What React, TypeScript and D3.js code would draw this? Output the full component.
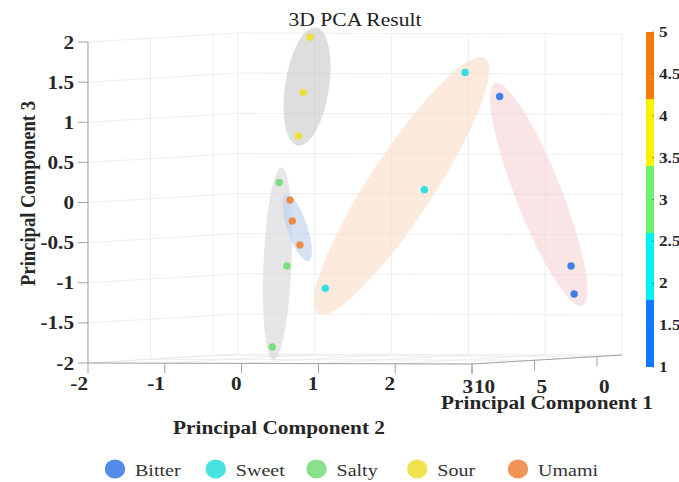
import React from "react";
import * as d3 from "d3";

// ---------- data ----------
const categories = ["Bitter", "Sweet", "Salty", "Sour", "Umami"];
const categoryCodes = [1, 2, 3, 4, 5];
// point positions read as [PC2, PC3] against the front axes of the 3D view
const bitterPoints = [[3.36, 1.32], [4.29, -0.79], [4.33, -1.14]];
const sweetPoints = [[2.91, 1.62], [2.38, 0.16], [1.09, -1.07]];
const saltyPoints = [[0.49, 0.25], [0.59, -0.79], [0.40, -1.80]];
const sourPoints = [[0.89, 2.06], [0.80, 1.37], [0.74, 0.83]];
const umamiPoints = [[0.63, 0.03], [0.66, -0.23], [0.76, -0.53]];
const groupPoints = [bitterPoints, sweetPoints, saltyPoints, sourPoints, umamiPoints];

const pc1Ticks = [10, 5, 0];
const pc2Ticks = [-2, -1, 0, 1, 2, 3];
const pc3Ticks = [-2, -1.5, -1, -0.5, 0, 0.5, 1, 1.5, 2];
const colorbarTicks = [1, 1.5, 2, 2.5, 3, 3.5, 4, 4.5, 5];
const colorbarBins = [1, 1.8, 2.6, 3.4, 4.2, 5];

// ---------- styles ----------
const pointColors = ["#3f7fe6", "#33e0e0", "#7edd7e", "#eee03a", "#ee8a45"];
const binColors = ["#1477ff", "#00f2f2", "#6fee6f", "#fff200", "#f77a0c"];
const ellipseStyle = [
  { pad: 14, hw: 23, dx: 0, dy: 0, rot: 0, fill: "rgb(245,210,213)" },
  { pad: 24, hw: 32, dx: -2, dy: 0, rot: 0, fill: "rgb(250,220,197)" },
  { pad: 14, hw: 14, dx: -2, dy: -1, rot: 0, fill: "rgb(213,213,217)" },
  { pad: 10, hw: 22, dx: 3, dy: 0, rot: 2, fill: "rgb(200,200,203)" },
  { pad: 12, hw: 10, dx: 3, dy: 5, rot: -6, fill: "rgb(187,207,237)" },
];
const ellipseOrder = [3, 2, 4, 1, 0];

const W = 679;
const H = 482;
const S = 1.146; // horizontal stretch of the original figure
const FONT = "'Liberation Serif', 'Times New Roman', serif";

// ---------- scales / projection ----------
const x2 = d3.scaleLinear().domain([-2, 3]).range([88, 472]);
const y3 = d3.scaleLinear().domain([-2, 2]).range([363, 42]);
const depthX = d3.scaleLinear().domain([10, -2]).range([0, 150]);
const depthY = d3.scaleLinear().domain([10, -2]).range([0, -9]);
const slopeY = d3.scaleLinear().domain([-2, 3]).range([0, 1]);
const cb = d3.scaleLinear().domain([1, 5]).range([367, 32]);
const legendX = d3.scaleLinear().domain([0, 4]).range([115, 518]);

function proj(pc1: number, pc2: number, pc3: number): [number, number] {
  return [x2(pc2) + depthX(pc1), y3(pc3) + depthY(pc1) + slopeY(pc2)];
}

function T(props: any) {
  const { x, y, size, weight, anchor, rotate, fill, children } = props;
  return (
    <text
      transform={`translate(${x},${y}) scale(${S},1)${rotate ? " rotate(-90)" : ""}`}
      fontFamily={FONT}
      fontSize={size}
      fontWeight={weight || "normal"}
      textAnchor={anchor || "start"}
      fill={fill || "#222"}
    >
      {children}
    </text>
  );
}

function fitEllipse(pts: number[][], st: any) {
  const sp = pts.map((p) => [x2(p[0]), y3(p[1])]);
  const mx = d3.mean(sp, (p) => p[0])!;
  const my = d3.mean(sp, (p) => p[1])!;
  let sxx = 0, syy = 0, sxy = 0;
  sp.forEach(([x, y]) => {
    sxx += (x - mx) * (x - mx);
    syy += (y - my) * (y - my);
    sxy += (x - mx) * (y - my);
  });
  const th = 0.5 * Math.atan2(2 * sxy, sxx - syy);
  const ux = Math.cos(th), uy = Math.sin(th);
  const ts = sp.map(([x, y]) => (x - mx) * ux + (y - my) * uy);
  const tmin = d3.min(ts)!, tmax = d3.max(ts)!;
  const tc = (tmin + tmax) / 2;
  return {
    cx: mx + tc * ux + st.dx,
    cy: my + tc * uy + st.dy,
    rx: (tmax - tmin) / 2 + st.pad,
    ry: st.hw,
    angle: (th * 180) / Math.PI + st.rot,
  };
}

export default function App() {
  const gridColor = "#e9e9e9";
  const axisColor = "#a3a3a3";
  const lines: JSX.Element[] = [];
  let k = 0;
  const L = (a: [number, number], b: [number, number], c: string, w = 0.8) =>
    lines.push(<line key={k++} x1={a[0]} y1={a[1]} x2={b[0]} y2={b[1]} stroke={c} strokeWidth={w} />);

  // back wall (pc1 = -2)
  pc2Ticks.forEach((v) => L(proj(-2, v, -2), proj(-2, v, 2), gridColor));
  pc3Ticks.forEach((v) => L(proj(-2, -2, v), proj(-2, 3, v), gridColor));
  // left wall (pc2 = -2)
  pc1Ticks.forEach((v) => L(proj(v, -2, -2), proj(v, -2, 2), gridColor));
  pc3Ticks.forEach((v) => L(proj(10, -2, v), proj(-2, -2, v), gridColor));
  // floor (pc3 = -2)
  pc2Ticks.forEach((v) => L(proj(10, v, -2), proj(-2, v, -2), gridColor));
  pc1Ticks.forEach((v) => L(proj(v, -2, -2), proj(v, 3, -2), gridColor));

  const axes: JSX.Element[] = [];
  const A = (a: [number, number], b: [number, number]) =>
    axes.push(<line key={k++} x1={a[0]} y1={a[1]} x2={b[0]} y2={b[1]} stroke={axisColor} strokeWidth={1} />);
  A(proj(10, -2, -2), proj(10, -2, 2));
  A(proj(10, -2, -2), proj(10, 3, -2));
  A(proj(10, 3, -2), proj(-2, 3, -2));
  pc3Ticks.forEach((v) => {
    const [x, y] = proj(10, -2, v);
    A([x - 10, y], [x, y]);
  });
  pc2Ticks.forEach((v) => {
    const [x, y] = proj(10, v, -2);
    A([x, y], [x, y + 10]);
  });
  pc1Ticks.forEach((v) => {
    const [x, y] = proj(v, 3, -2);
    A([x, y], [x, y + 10]);
  });

  const ellipses = ellipseOrder.map((i) => {
    const e = fitEllipse(groupPoints[i], ellipseStyle[i]);
    return (
      <ellipse
        key={"e" + i}
        cx={0}
        cy={0}
        rx={e.rx}
        ry={e.ry}
        transform={`translate(${e.cx},${e.cy}) rotate(${e.angle})`}
        fill={ellipseStyle[i].fill}
        fillOpacity={0.6}
      />
    );
  });

  return (
    <svg
      width={W}
      height={H}
      style={{ position: "absolute", left: 0, top: 0, background: "#fff" }}
    >
      <rect x={0} y={0} width={W} height={H} fill="#fff" />
      {lines}
      {ellipses}
      {groupPoints.map((pts, i) =>
        pts.map((p, j) => (
          <circle key={`p${i}-${j}`} cx={x2(p[0])} cy={y3(p[1])} r={3.7} fill={pointColors[i]} />
        ))
      )}
      {axes}

      {/* tick labels */}
      {pc3Ticks.map((v) => (
        <T key={"t3" + v} x={74} y={proj(10, -2, v)[1] + 6.5} size={18.5} weight="bold" anchor="end" fill="#262626">
          {String(v)}
        </T>
      ))}
      {pc2Ticks.map((v) => (
        <T key={"t2" + v} x={proj(10, v, -2)[0] + (v === 3 ? 1 : 0)} y={390 + (v === 3 ? 3 : 0)} size={18.5} weight="bold" anchor="end" fill="#262626">
          {String(v)}
        </T>
      ))}
      {pc1Ticks.map((v) => (
        <T key={"t1" + v} x={proj(v, 3, -2)[0] + 2} y={393} size={18.5} weight="bold" anchor="start" fill="#262626">
          {String(v)}
        </T>
      ))}

      {/* axis titles */}
      <T x={355} y={26} size={18.8} anchor="middle" fill="#222">3D PCA Result</T>
      <T x={279} y={434} size={18.6} weight="bold" anchor="middle" fill="#262626">Principal Component 2</T>
      <T x={547} y={409} size={18.6} weight="bold" anchor="middle" fill="#262626">Principal Component 1</T>
      <T x={35} y={193.5} size={18.6} weight="bold" anchor="middle" rotate fill="#262626">Principal Component 3</T>

      {/* colorbar */}
      {colorbarBins.slice(0, -1).map((b, i) => (
        <rect key={"cb" + i} x={646} y={cb(colorbarBins[i + 1])} width={8} height={cb(b) - cb(colorbarBins[i + 1])} fill={binColors[i]} />
      ))}
      {colorbarTicks.map((v) => (
        <g key={"cbt" + v}>
          <line x1={652} x2={654} y1={cb(v)} y2={cb(v)} stroke="#555" strokeWidth={0.6} />
          <T x={659} y={cb(v) + 5} size={15} weight="bold" fill="#262626">{String(v)}</T>
        </g>
      ))}

      {/* legend */}
      {categories.map((c, i) => (
        <g key={"lg" + c}>
          <ellipse cx={legendX(i)} cy={469} rx={10.2} ry={9.4} fill={pointColors[i]} fillOpacity={0.9} />
          <T x={legendX(i) + 20} y={476} size={17.5} fill="#333">{c}</T>
        </g>
      ))}
      <desc>{categoryCodes.join(",")}</desc>
    </svg>
  );
}
